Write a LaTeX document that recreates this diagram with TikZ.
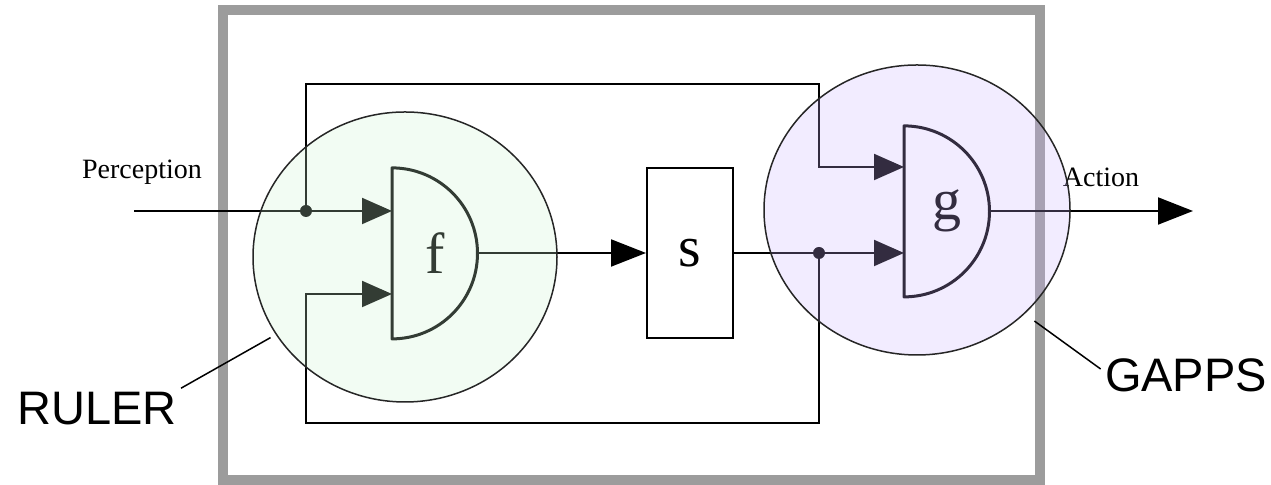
\documentclass[tikz,border=0pt]{standalone}
\usepackage{fontspec}
\setmainfont{Liberation Serif}
\newfontfamily\tagfont{Liberation Sans}
\usetikzlibrary{arrows.meta,calc,positioning,shapes.geometric}

\definecolor{framegray}{RGB}{156,156,156}
\definecolor{rulertint}{RGB}{204,242,209}
\definecolor{gappstint}{RGB}{204,179,255}

\tikzset{
  wire/.style={line width=1pt},
  feed/.style={wire, -{Triangle[length=15pt,width=13pt]}},
  bigfeed/.style={wire, -{Triangle[length=17.5pt,width=13.5pt]}},
  gate/.style={minimum width=42.75pt, minimum height=85.5pt, inner sep=0pt,
               font=\fontsize{29}{29}\selectfont},
  gatebody/.style={line width=1.5pt, line join=round},
  joint/.style={circle, fill, inner sep=0pt, minimum size=6pt},
  zone/.style={ellipse, draw=black!85, line width=0.75pt, fill opacity=0.25, inner sep=0pt},
  zonetag/.style={font=\tagfont\fontsize{23.5}{23.5}\selectfont, inner sep=2pt},
  sidetext/.style={font=\fontsize{14}{14}\selectfont},
}

\begin{document}
\begin{tikzpicture}[x=5pt, y=5pt]
    \useasboundingbox (0,0) rectangle (127.1,48.5);

    % outer frame
    \draw[framegray, line width=5pt] (22.3,0.45) rectangle (104,47.5);

    % the two functions and the state box
    \node[gate, anchor=west] (f) at (39.2,23.2) {f};
    \node[gate, anchor=west] (g) at (90.4,27.4) {g};
    \node[draw, wire, minimum width=43pt, minimum height=85pt,
          font=\fontsize{29}{29}\selectfont] (s) at (69,23.2) {s};
    \draw[gatebody] (f.south west) arc[start angle=-90, end angle=90, radius=42.75pt] -- cycle;
    \draw[gatebody] (g.south west) arc[start angle=-90, end angle=90, radius=42.75pt] -- cycle;

    \coordinate (f in1) at ($(f.west)+(0,4.2)$);
    \coordinate (f in2) at ($(f.west)+(0,-4.1)$);
    \coordinate (g in1) at ($(g.west)+(0,4.4)$);
    \coordinate (g in2) at ($(g.west)+(0,-4.2)$);

    \coordinate (percep) at (13.4,27.4);
    \coordinate (act) at (119.3,27.4);
    \coordinate (looptop) at (81.9,40.1);
    \coordinate (loopbot) at (30.6,6.2);
    \node[joint] (fdot) at (30.6,27.4) {};
    \node[joint] (gdot) at (81.9,23.2) {};

    % wiring
    \draw[feed] (percep) -- (f in1);
    \draw[feed] (fdot.center) |- (looptop) |- (g in1);
    \draw[bigfeed] (f.east) -- (s.west);
    \draw[feed] (s.east) -- (g in2);
    \draw[feed] (gdot.center) |- (loopbot) |- (f in2);
    \draw[bigfeed] (g.east) -- (act);

    \node[sidetext] (perclabel) at (14.2,31.3) {Perception};
    \node[sidetext] (actlabel) at (110.1,30.8) {Action};

    % tinted zones on top
    \node[zone, fill=rulertint, minimum width=152pt, minimum height=145pt] (ruler) at (40.5,22.8) {};
    \node[zone, fill=gappstint, minimum width=153pt, minimum height=145pt] (gapps) at (91.7,27.5) {};

    \node[zonetag] (rulertag) at (9.7,7.6) {RULER};
    \node[zonetag] (gappstag) at (118.6,11.0) {GAPPS};
    \draw[line width=0.75pt, shorten >=3pt] (rulertag.north east) -- (ruler.211);
    \draw[line width=0.75pt, shorten >=6pt] ([yshift=3pt]gappstag.west) -- (gapps.316);
\end{tikzpicture}
\end{document}
